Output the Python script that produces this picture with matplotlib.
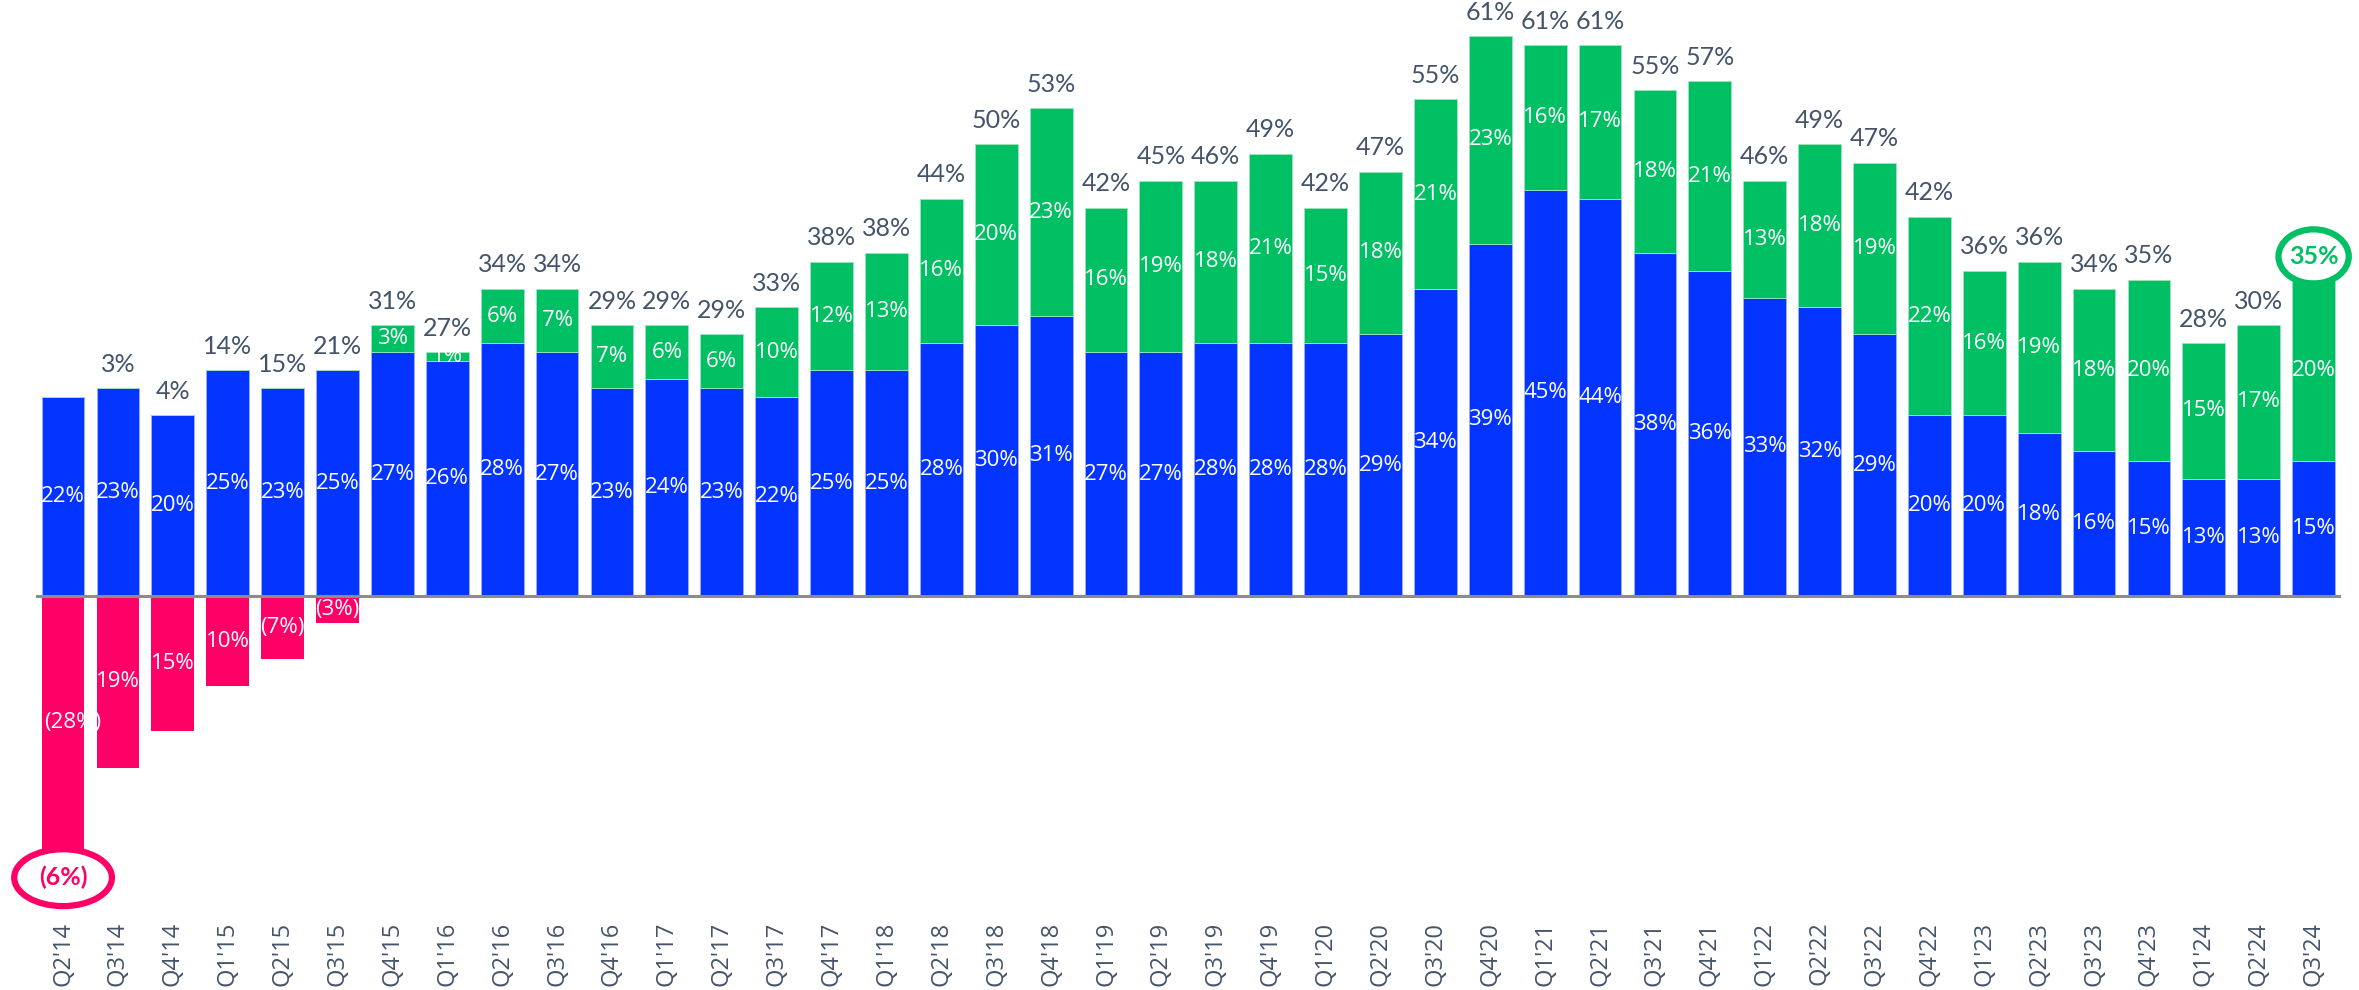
# Gráfico de barras empilhadas: margem (azul), componente positivo (verde) e negativo (rosa)

import matplotlib.pyplot as plt
from matplotlib.patches import Ellipse

# Dados
trimestres = ["Q2'14", "Q3'14", "Q4'14",
              "Q1'15", "Q2'15", "Q3'15", "Q4'15",
              "Q1'16", "Q2'16", "Q3'16", "Q4'16",
              "Q1'17", "Q2'17", "Q3'17", "Q4'17",
              "Q1'18", "Q2'18", "Q3'18", "Q4'18",
              "Q1'19", "Q2'19", "Q3'19", "Q4'19",
              "Q1'20", "Q2'20", "Q3'20", "Q4'20",
              "Q1'21", "Q2'21", "Q3'21", "Q4'21",
              "Q1'22", "Q2'22", "Q3'22", "Q4'22",
              "Q1'23", "Q2'23", "Q3'23", "Q4'23",
              "Q1'24", "Q2'24", "Q3'24"]

azul = [22, 23, 20, 25, 23, 25, 27, 26, 28, 27, 23, 24, 23, 22, 25, 25, 28, 30, 31, 27, 27,
        28, 28, 28, 29, 34, 39, 45, 44, 38, 36, 33, 32, 29, 20, 20, 18, 16, 15, 13, 13, 15]

verde = [0, 0, 0, 0, 0, 0, 3, 1, 6, 7, 7, 6, 6, 10, 12, 13, 16, 20, 23, 16, 19,
         18, 21, 15, 18, 21, 23, 16, 17, 18, 21, 13, 18, 19, 22, 16, 19, 18, 20, 15, 17, 20]

rosa = [-28, -19, -15, -10, -7, -3] + [0] * 36
rosa_rotulos = ['(28%)', '19%', '15%', '10%', '(7%)', '(3%)']

totais = [-6, 3, 4, 14, 15, 21, 31, 27, 34, 34, 29, 29, 29, 33, 38, 38, 44, 50, 53, 42, 45,
          46, 49, 42, 47, 55, 61, 61, 61, 55, 57, 46, 49, 47, 42, 36, 36, 34, 35, 28, 30, 35]

# Cores
COR_AZUL = '#0434FF'
COR_VERDE = '#00C063'
COR_ROSA = '#FF0066'
COR_TEXTO = '#44546A'

plt.rcParams['font.family'] = ['Lato', 'DejaVu Sans']

fig = plt.figure(figsize=(23.59, 9.9), dpi=100)
ax = fig.add_axes([0.0151, 0.0788, 0.9773, 0.9212])

x = list(range(len(trimestres)))
largura = 0.78

ax.bar(x, azul, width=largura, color=COR_AZUL, edgecolor='#9DB0FF', linewidth=0.6, zorder=2)
ax.bar(x, verde, width=largura, bottom=azul, color=COR_VERDE, edgecolor='#9BE6C0',
       linewidth=0.6, zorder=2)
ax.bar(x, rosa, width=largura, color=COR_ROSA, zorder=2)

# Linha do zero
ax.axhline(0, color='#8C8C8C', linewidth=2.2, zorder=3)

# Rótulos dentro das barras
for i in x:
    ax.text(i, azul[i] / 2, f'{azul[i]}%', ha='center', va='center', color='white',
            fontsize=16, family='Open Sans', zorder=4)
    if verde[i] > 0:
        ax.text(i, azul[i] + verde[i] / 2, f'{verde[i]}%', ha='center', va='center',
                color='white', fontsize=16, family='Open Sans', zorder=4)
    if rosa[i] < 0:
        # o primeiro rótulo é mais largo que a barra, fica um pouco à direita
        desloc = 0.18 if i == 0 else 0
        ax.text(i + desloc, rosa[i] / 2, rosa_rotulos[i], ha='center', va='center',
                color='white', fontsize=16, family='Open Sans', zorder=4)

# Rótulos do total acima de cada barra
for i in x[1:-1]:
    topo = azul[i] + verde[i]
    ax.annotate(f'{totais[i]}%', (i, topo), xytext=(0, 9), textcoords='offset points',
                ha='center', va='bottom', color=COR_TEXTO, fontsize=18)

# Destaques: primeiro (negativo) e último trimestre
ax.add_patch(Ellipse((0, -31.2), 1.78, 6.3, fill=False, edgecolor=COR_ROSA, linewidth=4.5,
                     clip_on=False, zorder=5))
ax.text(0, -31.2, f'({abs(totais[0])}%)', ha='center', va='center', color=COR_ROSA,
        fontsize=18, fontweight='bold', zorder=5)

ultimo = len(x) - 1
ax.add_patch(Ellipse((ultimo, 37.6), 1.28, 6.0, fill=False, edgecolor=COR_VERDE, linewidth=4.5,
                     clip_on=False, zorder=5))
ax.text(ultimo, 37.6, f'{totais[ultimo]}%', ha='center', va='center', color=COR_VERDE,
        fontsize=18, fontweight='bold', zorder=5)

ax.set_xlim(-0.5, len(x) - 0.5)
ax.set_ylim(-35, 66)
ax.set_xticks(x)
ax.set_xticklabels(trimestres, rotation=90, color=COR_TEXTO, fontsize=17, family='Open Sans')
ax.tick_params(axis='x', length=0, pad=7)
ax.set_yticks([])
for lado in ax.spines.values():
    lado.set_visible(False)

plt.savefig('out.png', dpi=100)
plt.close()
